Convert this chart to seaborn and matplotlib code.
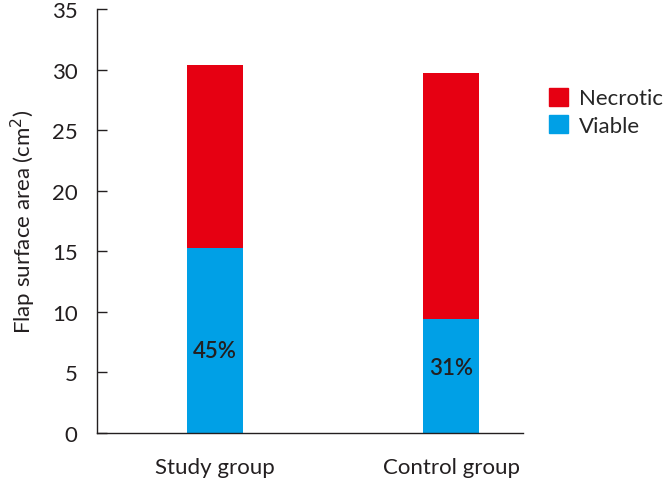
import numpy as np
import pandas as pd
import matplotlib
matplotlib.use("Agg")
import matplotlib.pyplot as plt
import seaborn as sns
from matplotlib.patches import Patch

# Data
groups = ["Study group", "Control group"]
total_area = [30.4, 29.7]      # viable + necrotic (cm2)
viable_area = [15.3, 9.4]
viable_pct = ["45%", "31%"]

necrotic_color = "#e60012"
viable_color = "#00a0e6"
text_color = "#231f20"

sns.set_theme(style="ticks")
plt.rcParams["font.family"] = ["Lato", "DejaVu Sans"]

df = pd.DataFrame({"group": groups, "total": total_area, "viable": viable_area})

fig = plt.figure(figsize=(6.69, 4.81), dpi=100)
ax = fig.add_axes([97 / 669, 1 - 434 / 481, 426 / 669, 424 / 481])

# Stacked bars: full height in red, viable part drawn over in blue
sns.barplot(data=df, x="group", y="total", color=necrotic_color, width=0.237,
            saturation=1, linewidth=0, ax=ax)
sns.barplot(data=df, x="group", y="viable", color=viable_color, width=0.237,
            saturation=1, linewidth=0, ax=ax)

# percentage labels inside the viable part
label_y = [6.8, 5.4]
for i, lab in enumerate(viable_pct):
    ax.text(i, label_y[i], lab, ha="center", va="center",
            fontsize=16, fontweight="semibold", color=text_color)

ax.set_xlim(-0.5, 1.305)
ax.set_ylim(0, 35)
ax.set_yticks(np.arange(0, 36, 5))
ax.tick_params(axis="y", direction="in", length=7, width=1, labelsize=16,
               colors=text_color, pad=14)
ax.tick_params(axis="x", length=0, labelsize=16, colors=text_color, pad=17)
ax.set_xlabel("")
ax.set_ylabel("Flap surface area (cm$^2$)", fontsize=16, color=text_color, labelpad=10)
sns.despine(ax=ax)
for sp in ["left", "bottom"]:
    ax.spines[sp].set_color(text_color)
    ax.spines[sp].set_linewidth(1)

handles = [Patch(color=necrotic_color, label="Necrotic"),
           Patch(color=viable_color, label="Viable")]
fig.legend(handles=handles, loc="upper left", bbox_to_anchor=(540 / 669, 1 - 80 / 481),
           frameon=False, fontsize=16, handlelength=0.85, handleheight=0.85,
           handletextpad=0.5, labelspacing=0.3, borderaxespad=0)

fig.savefig("out.png", dpi=100)
